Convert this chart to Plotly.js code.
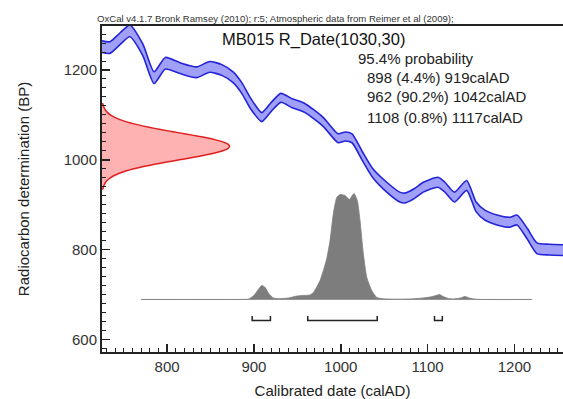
<!DOCTYPE html>
<html>
<head>
<meta charset="utf-8">
<script src="https://cdn.plot.ly/plotly-3.0.1.min.js"></script>
<style>html,body{margin:0;padding:0;background:#fff;}#chart{width:563px;height:399px;}</style>
</head>
<body>
<div id="chart"></div>
<script>
// ---- Calibration curve (IntCal09 section) : calendar year, radiocarbon BP, 1-sigma ----
var curveYear = [725, 734, 746, 757, 772, 785, 798, 815, 834, 849, 863, 876, 886, 896, 909, 920, 931, 944, 959, 980, 997, 1005, 1013, 1025, 1037, 1053, 1068, 1074, 1085, 1095, 1112, 1120, 1131, 1145, 1156, 1166, 1180, 1195, 1203, 1215, 1226, 1240, 1256];
var curveBP   = [1252, 1250, 1270, 1287, 1245, 1183, 1215, 1204, 1195, 1207, 1200, 1184, 1160, 1126, 1095, 1118, 1138, 1126, 1115, 1084, 1048, 1052, 1048, 1008, 970, 939, 917, 915, 925, 939, 950, 939, 917, 943, 895, 877, 866, 861, 866, 835, 803, 800, 799];
var curveErr  = [13, 13, 13, 13, 13, 13, 13, 12, 12, 12, 12, 12, 12, 12, 10, 10, 10, 10, 10, 10, 10, 10, 10, 10, 10, 11, 11, 11, 11, 11, 11, 11, 11, 11, 11, 11, 11, 11, 11, 12, 12, 12, 12];

// ---- Radiocarbon measurement R_Date(1030,30): BP values and relative likelihood ----
var measBP   = [935, 940, 945, 950, 955, 960, 965, 970, 975, 980, 985, 990, 995, 1000, 1005, 1010, 1015, 1020, 1025, 1030, 1035, 1040, 1045, 1050, 1055, 1060, 1065, 1070, 1075, 1080, 1085, 1090, 1095, 1100, 1105, 1110, 1115, 1120, 1125];
var measProb = [0.0067, 0.0111, 0.0181, 0.0286, 0.0439, 0.0657, 0.0956, 0.1353, 0.1862, 0.2494, 0.3247, 0.4111, 0.5063, 0.6065, 0.7066, 0.8007, 0.8825, 0.9460, 0.9862, 1.0, 0.9862, 0.9460, 0.8825, 0.8007, 0.7066, 0.6065, 0.5063, 0.4111, 0.3247, 0.2494, 0.1862, 0.1353, 0.0956, 0.0657, 0.0439, 0.0286, 0.0181, 0.0111, 0.0067];

// ---- Calibrated (posterior) distribution: calendar year and relative probability ----
var postYear = [770, 885, 893.6, 900, 905, 909, 913, 917, 922.4, 930, 940, 947, 955, 960, 964.6, 968.5, 972, 976.2, 980, 983.9, 987.7, 991.5, 995.4, 999.2, 1005, 1010, 1012.5, 1015.3, 1019.1, 1022.2, 1026, 1030, 1035.7, 1041.5, 1049, 1060, 1080, 1095, 1103, 1110, 1113.6, 1118, 1124, 1130, 1138, 1143, 1148, 1156, 1220];
var postProb = [0, 0, 0.3, 4, 10, 14, 12, 6, 1.5, 0.8, 1.5, 3, 4, 4, 4.5, 7, 12, 19, 29, 41, 59, 86, 102, 105, 104, 100, 103, 106, 99, 79, 46, 22, 9, 2, 0.7, 0.3, 0.5, 1.5, 2.5, 4, 5, 3, 1, 0.5, 1.5, 3, 1.5, 0.2, 0];

// ---- 95.4% ranges ----
var rangeStart = [898, 962, 1108];
var rangeEnd   = [919, 1042, 1117];
var rangePct   = ['4.4%', '90.2%', '0.8%'];

// ---- Text ----
var headerText = 'OxCal v4.1.7 Bronk Ramsey (2010); r:5; Atmospheric data from Reimer et al (2009);';
var titleText = 'MB015 R_Date(1030,30)';
var probHeader = '95.4% probability';
var xTitle = 'Calibrated date (calAD)';
var yTitle = 'Radiocarbon determination (BP)';
var xRange = [725, 1256];
var yRange = [572, 1298];

// ---- Layout constants (positions / styles) ----
var FONT = 'Arial, "Liberation Sans", sans-serif';
var ML = 102, MR = 0, MT = 26, MB = 47, W = 563, H = 399;
var PW = W - ML - MR, PH = H - MT - MB;
function px2x(px){ return (px - ML) / PW; }
function py2y(py){ return (H - MB - py) / PH; }

var measWidth = 147;      // horizontal extent of measurement curve, in years
var postBase = 689;       // baseline of posterior plot, BP units
var postHeight = 236;     // height of posterior max, BP units
var brBot = 642, brTop = 652;

var upper = curveBP.map(function(v,i){ return v + curveErr[i]; });
var lower = curveBP.map(function(v,i){ return v - curveErr[i]; });

var blueEdge = 'rgb(35,35,215)';
var traces = [];
traces.push({x: curveYear, y: upper, mode: 'lines', line: {color: blueEdge, width: 1.6, shape: 'spline', smoothing: 0.6}, hoverinfo: 'skip', showlegend: false});
traces.push({x: curveYear, y: lower, mode: 'lines', fill: 'tonexty', fillcolor: 'rgb(160,160,248)', line: {color: blueEdge, width: 1.6, shape: 'spline', smoothing: 0.6}, hoverinfo: 'skip', showlegend: false});

// measurement (red) drawn from the y-axis
var mx = [xRange[0]].concat(measProb.map(function(p){ return xRange[0] + p * measWidth; })).concat([xRange[0]]);
var my = [measBP[0]].concat(measBP).concat([measBP[measBP.length-1]]);
traces.push({x: mx, y: my, mode: 'lines', fill: 'toself', fillcolor: 'rgb(255,178,178)', line: {color: 'rgb(225,30,30)', width: 1.5, shape: 'spline', smoothing: 0.5}, hoverinfo: 'skip', showlegend: false});

// posterior (grey)
var pmax = Math.max.apply(null, postProb);
traces.push({x: [postYear[0], postYear[postYear.length-1]], y: [postBase, postBase], mode: 'lines', line: {color: 'rgb(170,170,170)', width: 1}, hoverinfo: 'skip', showlegend: false});
traces.push({x: postYear, y: postProb.map(function(p){ return postBase + p / pmax * postHeight; }), mode: 'lines', fill: 'toself', fillcolor: 'rgb(125,125,125)', line: {color: 'rgb(125,125,125)', width: 0.8, shape: 'spline', smoothing: 0.5}, hoverinfo: 'skip', showlegend: false});

// range brackets
var bx = [], by = [];
rangeStart.forEach(function(s,i){
  bx.push(s, s, rangeEnd[i], rangeEnd[i], null);
  by.push(brTop, brBot, brBot, brTop, null);
});
traces.push({x: bx, y: by, mode: 'lines', line: {color: '#222', width: 1.5}, hoverinfo: 'skip', showlegend: false, connectgaps: false});

var annotations = [
  {text: headerText, xref: 'paper', yref: 'paper', x: px2x(95), y: py2y(19), xanchor: 'left', yanchor: 'middle', showarrow: false, font: {family: FONT, size: 9.6, color: '#333'}},
  {text: titleText, xref: 'paper', yref: 'paper', x: px2x(313), y: py2y(40), xanchor: 'center', yanchor: 'middle', showarrow: false, font: {family: FONT, size: 16.5, color: '#111'}},
  {text: probHeader, xref: 'paper', yref: 'paper', x: px2x(356), y: py2y(58), xanchor: 'left', yanchor: 'middle', showarrow: false, font: {family: FONT, size: 15, color: '#222'}}
];
rangeStart.forEach(function(s,i){
  annotations.push({text: s + ' (' + rangePct[i] + ') ' + rangeEnd[i] + 'calAD', xref: 'paper', yref: 'paper', x: px2x(365), y: py2y(77 + 20*i), xanchor: 'left', yanchor: 'middle', showarrow: false, font: {family: FONT, size: 15, color: '#222'}});
});

var axisCommon = {
  showgrid: false, zeroline: false, showline: true, linecolor: '#222', linewidth: 2,
  ticks: 'inside', ticklen: 8, tickwidth: 1.5, tickcolor: '#222',
  tickfont: {family: FONT, size: 15, color: '#333'}
};

var layout = {
  width: W, height: H,
  margin: {l: ML, r: MR, t: MT, b: MB, pad: 0},
  paper_bgcolor: '#fff', plot_bgcolor: '#fff',
  showlegend: false,
  xaxis: Object.assign({}, axisCommon, {
    range: xRange, tick0: 0, dtick: 100, mirror: true,
    minor: {dtick: 10, ticks: 'inside', ticklen: 4, tickwidth: 1, tickcolor: '#222'},
    title: {text: xTitle, font: {family: FONT, size: 15, color: '#222'}, standoff: 12}
  }),
  yaxis: Object.assign({}, axisCommon, {
    range: yRange, tick0: 0, dtick: 200,
    minor: {dtick: 20, ticks: 'inside', ticklen: 4, tickwidth: 1, tickcolor: '#222'},
    title: {text: yTitle, font: {family: FONT, size: 15, color: '#222'}, standoff: 30}
  }),
  annotations: annotations
};

Plotly.newPlot('chart', traces, layout, {staticPlot: true, displayModeBar: false});
</script>
</body>
</html>
